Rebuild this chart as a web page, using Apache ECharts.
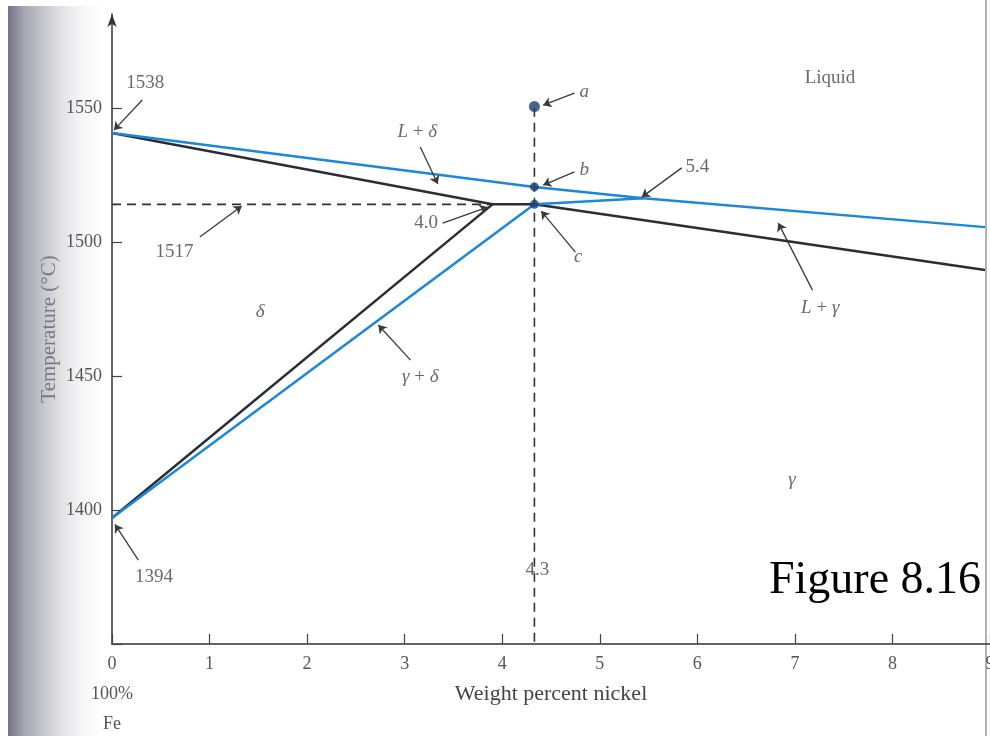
<!DOCTYPE html>
<html>
<head>
<meta charset="utf-8">
<script src="https://cdn.jsdelivr.net/npm/echarts@6/dist/echarts.min.js"></script>
<style>
  html, body { margin: 0; padding: 0; background: #fff; }
  #chart { width: 990px; height: 736px; }
</style>
</head>
<body>
<div id="chart"></div>
<script>
// Fe-Ni phase diagram, iron-rich corner (wt% Ni vs temperature)
const serif = '"Liberation Serif", "DejaVu Serif", serif';

// phase boundaries [wt% Ni, temperature]
const liquidus = [[0, 1540.6], [4.33, 1520.5], [5.45, 1516.3], [8.95, 1505.5]];
const solidus = [[0, 1540.6], [3.9, 1514], [4.33, 1514], [8.95, 1489.5]];
const deltaBoundary = [[0, 1397], [3.9, 1514]];
const gammaBoundary = [[0, 1397], [4.33, 1514]];
const peritecticBlue = [[4.33, 1514], [5.45, 1516.3]];
const isothermDashed = [[0, 1514], [3.9, 1514]];
const compositionDashed = [[4.33, 1550], [4.33, 1350]];

// the alloy's points a, b, c
const pointNames = ['a', 'b', 'c'];
const pointX = [4.33, 4.33, 4.33];
const pointT = [1550.5, 1520.5, 1514];
const pointSizes = [11, 9, 9];

// text annotations
const labelText = ['1538', '1517', 'L + δ', '4.0', 'a', 'b', 'c', '5.4', 'Liquid',
  'L + γ', 'δ', 'γ + δ', 'γ', '1394', '4.3'];
const labelX = [0.34, 0.64, 3.13, 3.22, 4.84, 4.84, 4.78, 6.0, 7.36,
  7.26, 1.52, 3.16, 6.97, 0.43, 4.36];
const labelT = [1559.2, 1496.2, 1541, 1507, 1555.9, 1526.8, 1494.3, 1527.9, 1561.1,
  1475.3, 1473.8, 1449.6, 1411.2, 1375, 1377.6];

// leader arrows: [from, to]
const arrows = [
  [[0.31, 1552.9], [0.02, 1541.7]],
  [[0.9, 1501.8], [1.33, 1513.4]],
  [[3.16, 1535.4], [3.34, 1521.6]],
  [[3.39, 1507.0], [3.85, 1513.0]],
  [[4.74, 1555.5], [4.42, 1551.0]],
  [[4.74, 1526.1], [4.42, 1521.2]],
  [[4.75, 1496.2], [4.4, 1511.5]],
  [[5.84, 1527.6], [5.43, 1516.7]],
  [[7.18, 1482.0], [6.83, 1507.0]],
  [[3.06, 1455.9], [2.73, 1469.0]],
  [[0.27, 1381.3], [0.03, 1394.6]]
];

const xTicks = [0, 1, 2, 3, 4, 5, 6, 7, 8, 9];
const yTicks = [1400, 1450, 1500, 1550];

const black = '#2c2c34';
const blue = '#1b87d8';

function boundary(data, color, width, dashed) {
  return {
    type: 'line',
    data: data,
    showSymbol: false,
    silent: true,
    z: 3,
    lineStyle: { color: color, width: width || 2.5, type: dashed ? [9, 6] : 'solid' }
  };
}

function markup(text) {
  if (text === 'Liquid' || /^[\d.]+$/.test(text)) return text;
  return text.replace(/[A-Za-zδγ]/g, function (ch) { return '{i|' + ch + '}'; });
}

const chart = echarts.init(document.getElementById('chart'), null, { renderer: 'canvas' });

chart.setOption({
  animation: false,
  backgroundColor: '#fff',
  title: {
    text: 'Figure 8.16',
    left: 764,
    top: 553,
    textStyle: { fontFamily: serif, fontSize: 46, fontWeight: 'normal', color: '#000' }
  },
  graphic: [
    {
      type: 'rect',
      left: 8, top: 6, z: -10,
      shape: { width: 104, height: 730 },
      style: {
        fill: new echarts.graphic.LinearGradient(0, 0, 1, 0, [
          { offset: 0, color: '#72748a' },
          { offset: 0.15, color: '#a4a5b0' },
          { offset: 0.45, color: '#d9d9dc' },
          { offset: 1, color: 'rgba(255,255,255,0)' }
        ])
      }
    },
    {
      type: 'line', z: -5,
      shape: { x1: 986, y1: 0, x2: 986, y2: 736 },
      style: { stroke: '#9a9a9a', lineWidth: 1.5 }
    }
  ],
  grid: { left: 112, right: 0, top: 14, bottom: 92, containLabel: false, outerBoundsMode: 'none' },
  xAxis: {
    type: 'value',
    min: 0,
    max: 9,
    interval: 1,
    name: 'Weight percent nickel',
    nameLocation: 'middle',
    nameGap: 39,
    nameMoveOverlap: false,
    nameTextStyle: { fontFamily: serif, fontSize: 22, color: '#444' },
    axisLine: { lineStyle: { color: '#333', width: 1.5 } },
    axisTick: { inside: true, length: 10, lineStyle: { color: '#444', width: 1.2 } },
    splitLine: { show: false },
    axisLabel: {
      fontFamily: serif, fontSize: 18, color: '#555', margin: 5, lineHeight: 30,
      formatter: function (v) {
        if (xTicks.indexOf(v) < 0) return '';
        return v === 0 ? '0\n100%\nFe' : String(v);
      }
    }
  },
  yAxis: {
    type: 'value',
    min: 1350,
    max: 1585,
    interval: 50,
    name: 'Temperature (°C)',
    nameLocation: 'middle',
    nameGap: 52,
    nameMoveOverlap: false,
    nameTextStyle: { fontFamily: serif, fontSize: 21, color: '#7a7a80' },
    axisLine: {
      show: true,
      symbol: ['none', 'arrow'],
      symbolSize: [7, 13],
      lineStyle: { color: '#333', width: 1.5 }
    },
    axisTick: { inside: true, length: 10, lineStyle: { color: '#444', width: 1.2 } },
    splitLine: { show: false },
    axisLabel: {
      fontFamily: serif, fontSize: 18, color: '#555', margin: 10,
      showMaxLabel: false,
      formatter: function (v) { return yTicks.indexOf(v) < 0 ? '' : String(v); }
    }
  },
  series: [
    boundary(isothermDashed, '#333', 1.6, true),
    boundary(compositionDashed, '#333', 1.6, true),
    boundary(solidus, black),
    boundary(deltaBoundary, black),
    boundary(liquidus, blue),
    boundary(gammaBoundary, blue),
    boundary(peritecticBlue, blue),
    {
      type: 'lines',
      coordinateSystem: 'cartesian2d',
      silent: true,
      z: 4,
      symbol: ['none', 'arrow'],
      symbolSize: 8,
      lineStyle: { color: '#3a3a3a', width: 1.3, opacity: 1 },
      data: arrows.map(function (a) { return { coords: a }; })
    },
    {
      type: 'scatter',
      silent: true,
      z: 5,
      itemStyle: { color: '#1c3d6e' },
      data: pointNames.map(function (n, i) {
        return { name: n, value: [pointX[i], pointT[i]], symbolSize: pointSizes[i] };
      })
    },
    {
      type: 'scatter',
      silent: true,
      z: 6,
      symbolSize: 0,
      data: labelText.map(function (t, i) { return { name: t, value: [labelX[i], labelT[i]] }; }),
      label: {
        show: true,
        position: 'inside',
        fontFamily: serif,
        fontSize: 19,
        color: '#444',
        formatter: function (p) { return markup(p.name); },
        rich: {
          i: { fontFamily: serif, fontSize: 19, fontStyle: 'italic', color: '#444' }
        }
      }
    }
  ]
});
</script>
</body>
</html>
